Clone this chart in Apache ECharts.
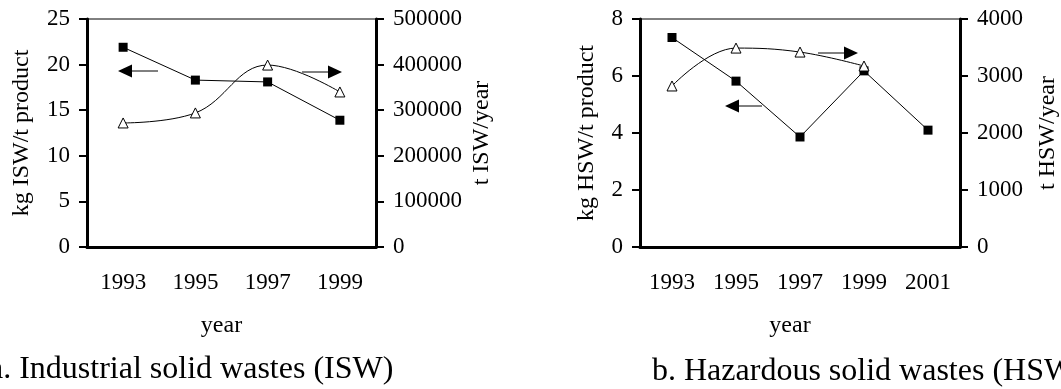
<!DOCTYPE html>
<html>
<head>
<meta charset="utf-8">
<script src="https://cdn.jsdelivr.net/npm/echarts@6/dist/echarts.min.js"></script>
<style>
  html, body { margin: 0; padding: 0; background: #fff; }
  #main { width: 1061px; height: 389px; }
</style>
</head>
<body>
<div id="main"></div>
<script>
// a. industrial solid wastes
const yearsA = ['1993', '1995', '1997', '1999'];
const iswPerProduct = [21.9, 18.3, 18.1, 13.9];   // kg ISW/t product
const iswPerYear = [272000, 294000, 399000, 340000]; // t ISW/year

// b. hazardous solid wastes
const yearsB = ['1993', '1995', '1997', '1999', '2001'];
const hswPerProduct = [7.35, 5.82, 3.86, 6.18, 4.1];   // kg HSW/t product
const hswPerYear = [2825, 3490, 3420, 3175, null];     // t HSW/year

const font = 'Liberation Serif';
const black = '#000';

const labelStyle = { color: black, fontFamily: font, fontSize: 23 };
const nameStyle = { color: black, fontFamily: font, fontSize: 24 };

function xAxisFor(gridIndex, data) {
  return {
    type: 'category',
    gridIndex: gridIndex,
    data: data,
    name: 'year',
    nameLocation: 'middle',
    nameGap: 67,
    nameTextStyle: Object.assign({ padding: [0, 20, 0, 0] }, nameStyle),
    axisLine: { lineStyle: { color: black, width: 3 } },
    axisTick: { interval: 0, length: 7, lineStyle: { color: black, width: 2 } },
    axisLabel: Object.assign({ interval: 0, margin: 24 }, labelStyle),
    splitLine: { show: false },
  };
}

function yAxisFor(gridIndex, pos, max, interval, name, gap) {
  return {
    type: 'value',
    gridIndex: gridIndex,
    position: pos,
    min: 0,
    max: max,
    interval: interval,
    name: name,
    nameLocation: 'middle',
    nameGap: gap,
    nameTextStyle: nameStyle,
    axisLine: { show: true, lineStyle: { color: black, width: 3 } },
    axisTick: { show: true, length: 8, lineStyle: { color: black, width: 2 } },
    axisLabel: Object.assign({ margin: 17, formatter: v => String(v) }, labelStyle),
    splitLine: { show: false },
  };
}

const squareSeries = {
  type: 'line',
  symbol: 'rect',
  symbolSize: 9,
  lineStyle: { color: black, width: 1 },
  itemStyle: { color: black },
  z: 3,
};

const triangleSeries = {
  type: 'line',
  symbol: 'triangle',
  symbolSize: 10,
  smooth: 0.4,
  lineStyle: { color: black, width: 1 },
  itemStyle: { color: '#fff', borderColor: black, borderWidth: 1 },
  z: 4,
};

function arrow(x1, x2, y, left) {
  // horizontal arrow, head at x1 when left, else at x2
  const head = 14, half = 6.5;
  const tip = left ? x1 : x2;
  const base = left ? x1 + head : x2 - head;
  return [
    {
      type: 'line',
      shape: { x1: left ? base : x1, y1: y, x2: left ? x2 : base, y2: y },
      style: { stroke: black, lineWidth: 1 },
    },
    {
      type: 'polygon',
      shape: { points: [[tip, y], [base, y - half], [base, y + half]] },
      style: { fill: black },
    },
  ];
}

const chart = echarts.init(document.getElementById('main'), null, { renderer: 'canvas' });

const option = {
  animation: false,
  backgroundColor: '#fff',
  grid: [
    { left: 87, top: 19, width: 289, height: 228, show: true, borderColor: black, borderWidth: 1 },
    { left: 640, top: 19, width: 325, height: 228, show: true, borderColor: black, borderWidth: 1 },
  ],
  xAxis: [xAxisFor(0, yearsA), xAxisFor(1, yearsB)],
  yAxis: [
    yAxisFor(0, 'left', 25, 5, 'kg ISW/t product', 53),
    yAxisFor(0, 'right', 500000, 100000, 't ISW/year', 94),
    yAxisFor(1, 'left', 8, 2, 'kg HSW/t product', 41),
    yAxisFor(1, 'right', 4000, 1000, 't HSW/year', 76),
  ],
  series: [
    Object.assign({ name: 'kg ISW/t product', xAxisIndex: 0, yAxisIndex: 0, data: iswPerProduct }, squareSeries),
    Object.assign({ name: 't ISW/year', xAxisIndex: 0, yAxisIndex: 1, data: iswPerYear }, triangleSeries),
    Object.assign({ name: 'kg HSW/t product', xAxisIndex: 1, yAxisIndex: 2, data: hswPerProduct }, squareSeries),
    Object.assign({ name: 't HSW/year', xAxisIndex: 1, yAxisIndex: 3, data: hswPerYear }, triangleSeries),
  ],
  graphic: [].concat(
    arrow(118, 158, 71, true),
    arrow(302, 342, 72, false),
    arrow(725, 762, 106, true),
    arrow(818, 858, 53, false),
    [
      {
        type: 'text',
        left: -11,
        top: 354,
        style: { text: 'a. Industrial solid wastes (ISW)', fill: black, font: '32px "Liberation Serif"' },
      },
      {
        type: 'text',
        left: 652,
        top: 356,
        style: { text: 'b. Hazardous solid wastes (HSW)', fill: black, font: '32px "Liberation Serif"' },
      },
    ]
  ),
};

chart.setOption(option);
</script>
</body>
</html>
